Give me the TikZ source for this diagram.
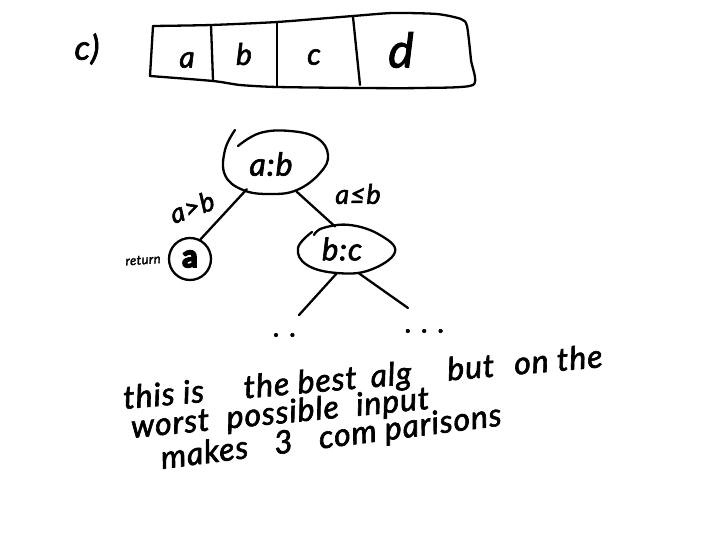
\documentclass[tikz,border=0pt]{standalone}
\usepackage{fontspec}
\usetikzlibrary{shapes.geometric}
\setmainfont{Lato}
\newfontfamily\hand[ItalicFont={Lato Italic},ItalicFeatures={FakeBold=2},LetterSpace=3]{Lato}
\newfontfamily\blob[FakeBold=9]{Lato}
\newcommand{\handfont}[1]{\fontsize{#1}{#1}\selectfont\hand\itshape}
\begin{document}
\begin{tikzpicture}
  [x=1pt,y=-1pt,every node/.style={inner sep=0pt,font=\handfont{30}},
   ink/.style={line width=2.3pt,line cap=round,line join=round},
   phrase/.style={anchor=base west,font=\handfont{32}}]
  \useasboundingbox (0,0) rectangle (720,540);

  % the array
  \coordinate (t1) at (153,26);
  \coordinate (b1) at (150,76);
  \coordinate (t2) at (211,25);
  \coordinate (b2) at (213,80);
  \coordinate (t3) at (277,23);
  \coordinate (b3) at (277,87);
  \coordinate (t4) at (353,17);
  \coordinate (b4) at (360,85);
  \draw[ink] plot[smooth,tension=.4] coordinates {(t1) (211,25) (277,22) (353,16) (393,13) (437,14) (461,19) (467,26) (471,60) (473,85) (420,88) (360,88) (277,87) (240,85) (213,81) (b1)};
  \foreach \from/\to in {t1/b1,t2/b2,t3/b3,t4/b4}
    \draw[ink] (\from) -- (\to);
  \node[font=\handfont{34}] (lbl) at (87,49) {c)};
  \node (ca) at (187,60) {a};
  \node (cb) at (244,54) {b};
  \node (cc) at (314,57) {c};
  \node[font=\handfont{48}] (cd) at (401,50) {d};

  % the tree
  \node[ellipse,minimum width=105pt,minimum height=64pt] (ab) at (275,162) {};
  \node[font=\handfont{32}] (abtxt) at (271,164) {a:b};
  \node[ellipse,minimum width=97pt,minimum height=48pt] (bc) at (346,250) {};
  \node[font=\handfont{31}] (bctxt) at (342,249) {b:c};
  \node[circle,draw,line width=2.3pt,minimum size=42pt,font=\fontsize{30}{30}\selectfont\blob] (ret) at (190,259) {a};
  \node[font=\handfont{13},rotate=4] (rettxt) at (143,260) {return};
  \node[font=\handfont{27},rotate=20] (gt) at (192,207) {a>b};
  \node[font=\handfont{27}] (le) at (358,194) {a≤b};
  \coordinate (lleaf) at (299,315);
  \coordinate (rleaf) at (408,308);
  \node[font=\handfont{28}] (ldots) at (285,335) {. .};
  \node[font=\handfont{28}] (rdots) at (425,331) {. . .};

  \draw[ink] plot[smooth,tension=.7] coordinates {(235,130) (225,150) (225,175) (243,190) (270,194) (297,190) (320,173) (328,155) (317,138) (290,131) (260,133) (238,146)};
  \draw[ink] plot[smooth,tension=.7] coordinates {(312,232) (298,248) (307,265) (337,273) (370,270) (395,252) (380,235) (350,225) (323,228) (314,235)};

  \foreach \from/\to in {ab.224/ret.62,ab.-54/bc.115,bc.248/lleaf,bc.-61/rleaf}
    \draw[ink] (\from) -- (\to);

  % the note
  \node[phrase,rotate=5] (line1) at (124,409) {this is\hspace{40pt}the best\hspace{14pt}alg\hspace{36pt}but\hspace{20pt}on the};
  \node[phrase,rotate=5.6] (line2) at (132,438) {worst\hspace{9pt} possible\hspace{9pt} input};
  \node[phrase,rotate=7.3] (line3) at (162,469) {makes\hspace{18pt} 3\hspace{18pt} com parisons};
\end{tikzpicture}
\end{document}
